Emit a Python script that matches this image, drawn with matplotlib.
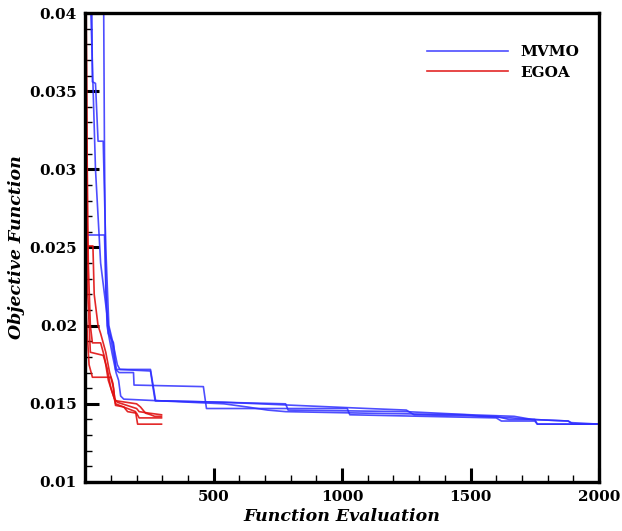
import numpy as np
import matplotlib
matplotlib.use("Agg")
import matplotlib.pyplot as plt
from matplotlib.ticker import MultipleLocator, FixedLocator

# MVMO runs (function evaluations, objective value)
mvmo_x = [
    [20, 26, 28, 40, 50, 70, 80, 92, 108, 125, 135, 254, 272, 540, 1100, 1250, 1280, 1600, 1650, 1750, 1760, 2000],
    [0, 75, 85, 90, 105, 120, 130, 138, 150, 540, 630, 710, 780, 1100, 1480, 1540, 1660, 1740, 1880, 1890, 2000],
    [70, 72, 75, 80, 90, 110, 115, 118, 132, 188, 190, 460, 472, 1020, 1030, 1600, 1620, 1750, 1760, 2000],
    [15, 22, 40, 60, 90, 100, 112, 122, 254, 274, 780, 790, 1250, 1500, 1670, 1740, 1880, 1900, 2000],
]
mvmo_y = [
    [0.045, 0.040, 0.0356, 0.0355, 0.0318, 0.0318, 0.025, 0.0200, 0.0189, 0.0175, 0.0172, 0.0171, 0.0152, 0.0151, 0.0147, 0.0146, 0.0143, 0.0142, 0.0140, 0.0140, 0.0137, 0.0137],
    [0.0258, 0.0258, 0.0200, 0.0195, 0.0182, 0.0170, 0.0165, 0.0155, 0.0153, 0.0150, 0.0148, 0.0146, 0.0145, 0.0144, 0.0143, 0.0142, 0.0141, 0.0140, 0.0139, 0.0138, 0.0137],
    [0.06, 0.040, 0.031, 0.0222, 0.0195, 0.0189, 0.0180, 0.0172, 0.0170, 0.0170, 0.0162, 0.0161, 0.0147, 0.0147, 0.0143, 0.0141, 0.0139, 0.0139, 0.0137, 0.0137],
    [0.06, 0.040, 0.030, 0.024, 0.0200, 0.0192, 0.0180, 0.0172, 0.0172, 0.0152, 0.0150, 0.0146, 0.0145, 0.0143, 0.0142, 0.0140, 0.0139, 0.0137, 0.0137],
]

# EGOA runs
egoa_x = [
    [0, 3, 8, 12, 20, 28, 60, 75, 90, 110, 118, 200, 215, 235, 255, 270, 297],
    [0, 5, 30, 35, 50, 60, 80, 95, 108, 115, 125, 200, 210, 250, 297],
    [2, 6, 10, 20, 70, 85, 100, 112, 118, 196, 204, 297],
    [0, 8, 15, 28, 100, 110, 118, 150, 165, 200, 210, 297],
]
egoa_y = [
    [0.06, 0.040, 0.030, 0.0240, 0.0200, 0.0189, 0.0189, 0.0180, 0.0165, 0.0155, 0.0152, 0.0150, 0.0148, 0.0144, 0.0143, 0.0142, 0.0142],
    [0.045, 0.0251, 0.0251, 0.0220, 0.0200, 0.0195, 0.0183, 0.0170, 0.0163, 0.0153, 0.0151, 0.0147, 0.0145, 0.0144, 0.0143],
    [0.05, 0.030, 0.022, 0.0183, 0.0181, 0.0173, 0.0160, 0.0154, 0.0150, 0.0145, 0.0137, 0.0137],
    [0.022, 0.0195, 0.0175, 0.0167, 0.0167, 0.0160, 0.0149, 0.0148, 0.0145, 0.0144, 0.0141, 0.0141],
]

plt.rcParams['font.family'] = ['DejaVu Serif']

fig = plt.figure(figsize=(6.22, 5.31), dpi=100)
ax = fig.add_axes([0.137, 0.0923, 0.826, 0.8832])

for i in range(len(mvmo_x)):
    ax.plot(mvmo_x[i], mvmo_y[i], color='#2f2fff', lw=1.2, alpha=0.85,
            label='MVMO' if i == 0 else None)
for i in range(len(egoa_x)):
    ax.plot(egoa_x[i], egoa_y[i], color='#e01010', lw=1.2, alpha=0.9,
            label='EGOA' if i == 0 else None)

ax.set_xlim(0, 2000)
ax.set_ylim(0.01, 0.04)

ax.xaxis.set_major_locator(FixedLocator([500, 1000, 1500, 2000]))
ax.xaxis.set_minor_locator(MultipleLocator(100))
ax.yaxis.set_major_locator(MultipleLocator(0.005))
ax.yaxis.set_minor_locator(MultipleLocator(0.001))
ax.yaxis.set_major_formatter(plt.FuncFormatter(lambda v, p: '%g' % round(v, 4)))

ax.tick_params(which='both', direction='in', top=False, right=False)
ax.tick_params(which='major', length=10, width=2.2, labelsize=11, pad=6)
ax.tick_params(which='minor', length=5, width=1)
for lab in ax.get_xticklabels() + ax.get_yticklabels():
    lab.set_fontweight('bold')

for s in ax.spines.values():
    s.set_linewidth(2.4)

ax.set_xlabel('Function Evaluation', fontsize=12.5, fontweight='bold', style='italic', labelpad=3)
ax.set_ylabel('Objective Function', fontsize=12.5, fontweight='bold', style='italic', labelpad=3)

leg = ax.legend(loc='upper left', bbox_to_anchor=(0.654, 0.945), frameon=False,
                borderaxespad=0, handlelength=5.3, handletextpad=0.8, labelspacing=0.45,
                prop={'weight': 'bold', 'size': 11})

plt.savefig('out.png', dpi=100)
